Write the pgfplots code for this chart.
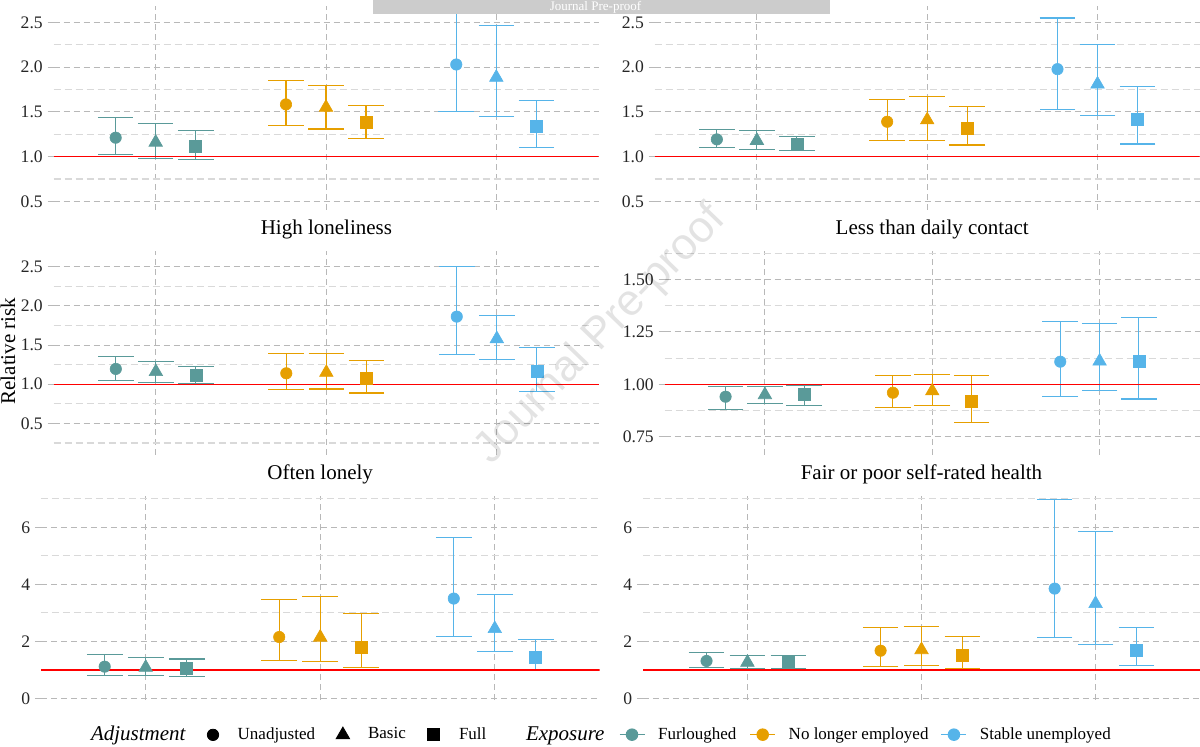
\documentclass[border=0pt]{standalone}
\usepackage{pgfplots}
\pgfplotsset{compat=1.18}
\usepackage{pgfplotstable}
\usepackage{fontspec}
\setmainfont{Liberation Serif}
\newfontfamily\wmfont{Liberation Sans}

\definecolor{cG}{HTML}{5A9A99}
\definecolor{cY}{HTML}{E69F00}
\definecolor{cB}{HTML}{56B4E9}
\definecolor{refline}{HTML}{FF0000}

% rows: Furloughed (U,B,F), No longer employed (U,B,F), Stable unemployed (U,B,F)
\pgfplotstableread{
x y lo hi
0.765 1.212 1.022 1.439
1.000 1.160 0.978 1.368
1.235 1.119 0.970 1.290
1.765 1.584 1.349 1.851
2.000 1.550 1.309 1.800
2.235 1.383 1.200 1.576
2.765 2.030 1.509 2.800
3.000 1.885 1.450 2.461
3.235 1.338 1.100 1.632
}\tabA
\pgfplotstableread{
x y lo hi
0.765 1.193 1.100 1.301
1.000 1.180 1.078 1.290
1.235 1.138 1.067 1.223
1.765 1.390 1.182 1.639
2.000 1.410 1.182 1.669
2.235 1.316 1.130 1.558
2.765 1.978 1.532 2.550
3.000 1.810 1.457 2.253
3.235 1.416 1.141 1.781
}\tabB
\pgfplotstableread{
x y lo hi
0.765 1.196 1.051 1.353
1.000 1.160 1.021 1.289
1.235 1.119 1.013 1.230
1.765 1.140 0.928 1.396
2.000 1.150 0.940 1.396
2.235 1.077 0.889 1.302
2.765 1.864 1.383 2.502
3.000 1.580 1.319 1.877
3.235 1.162 0.906 1.468
}\tabC
\pgfplotstableread{
x y lo hi
0.765 0.941 0.879 0.990
1.000 0.950 0.909 0.990
1.235 0.952 0.900 0.995
1.765 0.960 0.890 1.040
2.000 0.968 0.900 1.049
2.235 0.919 0.820 1.040
2.765 1.108 0.941 1.299
3.000 1.110 0.970 1.288
3.235 1.108 0.930 1.318
}\tabD
\pgfplotstableread{
x y lo hi
0.765 1.11 0.795 1.53
1.000 1.08 0.795 1.43
1.235 1.05 0.780 1.38
1.765 2.15 1.32 3.47
2.000 2.14 1.29 3.57
2.235 1.78 1.08 2.97
2.765 3.50 2.18 5.63
3.000 2.44 1.63 3.63
3.235 1.44 0.99 2.05
}\tabE
\pgfplotstableread{
x y lo hi
0.765 1.31 1.08 1.60
1.000 1.26 1.04 1.50
1.235 1.25 1.04 1.50
1.765 1.67 1.11 2.49
2.000 1.70 1.15 2.51
2.235 1.52 1.04 2.18
2.765 3.85 2.12 6.99
3.000 3.32 1.88 5.84
3.235 1.68 1.16 2.48
}\tabF

\pgfplotsset{
  panel/.style={scale only axis, height=102pt, anchor=south west,
    xmin=0.4, xmax=3.6, xtick={1,2,3}, xticklabels={},
    axis line style={draw=none},
    xmajorgrids, ymajorgrids, yminorgrids,
    major grid style={black!28, line width=0.5pt, dash pattern=on 3pt off 2pt},
    minor grid style={black!15, line width=0.55pt, dash pattern=on 3.5pt off 2pt},
    tick align=outside, major tick length=3pt, minor tick length=0pt,
    xtick style={draw=none}, ytick pos=left,
    ytick style={black!28, line width=0.5pt},
    yticklabel style={font=\fontsize{8.8}{10}\selectfont, inner xsep=2.2pt, text=black!85},
    clip=true},
  ci/.style={only marks, color=#1, mark options={solid, fill=#1, draw=#1, line width=0.3pt}},
  mU/.style={mark=*, mark size=2.85pt},
  mB/.style={mark=triangle*, mark size=3.9pt},
  mF/.style={mark=square*, mark size=3pt},
}

\newcommand{\cipt}[4]{%
  \addplot[ci=#3, #4, restrict expr to domain={\coordindex}{#2:#2},
    error bars/.cd, y dir=both, y explicit,
    error bar style={line width=0.55pt, solid},
    error mark options={rotate=90, line width=0.55pt, mark size=8.9pt, solid}]
    table[x=x, y=y, y error plus expr=\thisrow{hi}-\thisrow{y},
          y error minus expr=\thisrow{y}-\thisrow{lo}] {#1};}

\newcommand{\panelplots}[2]{%
  \cipt{#1}{0}{cG}{mU}\cipt{#1}{1}{cG}{mB}\cipt{#1}{2}{cG}{mF}%
  \cipt{#1}{3}{cY}{mU}\cipt{#1}{4}{cY}{mB}\cipt{#1}{5}{cY}{mF}%
  \cipt{#1}{6}{cB}{mU}\cipt{#1}{7}{cB}{mB}\cipt{#1}{8}{cB}{mF}%
  \addplot[draw=refline, line width=#2, solid, mark=none] coordinates {(0.4,1) (3.6,1)};}

\begin{document}
\begin{tikzpicture}
\path[use as bounding box] (0pt,0pt) rectangle (600pt,373.5pt);

% Row 1
\begin{axis}[panel, at={(26.75pt,268.5pt)}, width=272.5pt,
  ymin=0.404, ymax=2.684, ytick={0.5,1,1.5,2,2.5},
  yticklabels={0.5,1.0,1.5,2.0,2.5}, minor ytick={0.75,1.25,1.75,2.25}]
\panelplots{\tabA}{0.8pt}
\end{axis}
\begin{axis}[panel, at={(327.35pt,268.5pt)}, width=272.5pt,
  ymin=0.404, ymax=2.684, ytick={0.5,1,1.5,2,2.5},
  yticklabels={0.5,1.0,1.5,2.0,2.5}, minor ytick={0.75,1.25,1.75,2.25}]
\panelplots{\tabB}{0.8pt}
\end{axis}

% Row 2
\begin{axis}[panel, at={(26.8pt,146pt)}, width=272.75pt,
  ymin=0.097, ymax=2.702, ytick={0.5,1,1.5,2,2.5},
  yticklabels={0.5,1.0,1.5,2.0,2.5}, minor ytick={0.25,0.75,1.25,1.75,2.25}]
\panelplots{\tabC}{0.65pt}
\end{axis}
\begin{axis}[panel, at={(332.25pt,146pt)}, width=267.75pt,
  ymin=0.663, ymax=1.636, ytick={0.75,1,1.25,1.5},
  yticklabels={0.75,1.00,1.25,1.50}, minor ytick={0.875,1.125,1.375,1.625}]
\panelplots{\tabD}{0.65pt}
\end{axis}

% Row 3
\begin{axis}[panel, at={(20.5pt,23.5pt)}, width=279.25pt,
  ymin=-0.06, ymax=7.10, ytick={0,2,4,6},
  yticklabels={0,2,4,6}, minor ytick={3,5,7}]
\panelplots{\tabE}{1.0pt}
\end{axis}
\begin{axis}[panel, at={(321.5pt,23.5pt)}, width=278.5pt,
  ymin=-0.06, ymax=7.10, ytick={0,2,4,6},
  yticklabels={0,2,4,6}, minor ytick={3,5,7}]
\panelplots{\tabF}{1.0pt}
\end{axis}

% Legends
\begin{axis}[at={(0pt,0pt)}, anchor=south west, scale only axis,
  width=600pt, height=373.5pt, xmin=0, xmax=1, ymin=0, ymax=1, hide axis,
  legend columns=-1,
  legend style={at={(0.17275,0.0165)}, anchor=west, draw=none, fill=none,
    inner sep=0pt, outer sep=0pt, column sep=0pt,
    nodes={inner sep=0pt, outer sep=0pt},
    font=\fontsize{8.5}{10}\selectfont, cells={anchor=west}},
  legend image code/.code={\draw[#1] plot coordinates {(0pt,0pt)};}]
\addlegendimage{only marks, mark=*, mark size=2.85pt, black}
\addlegendentry{\hspace*{9.5pt}Unadjusted\rule{10.5pt}{0pt}}
\addlegendimage{only marks, mark=triangle*, mark size=3.9pt, black}
\addlegendentry{\hspace*{9.2pt}Basic\rule{10.6pt}{0pt}}
\addlegendimage{only marks, mark=square*, mark size=3pt, black}
\addlegendentry{\hspace*{10pt}Full}
\end{axis}
\begin{axis}[at={(0pt,0pt)}, anchor=south west, scale only axis,
  width=600pt, height=373.5pt, xmin=0, xmax=1, ymin=0, ymax=1, hide axis,
  legend columns=-1,
  legend style={at={(0.5158,0.0165)}, anchor=west, draw=none, fill=none,
    inner sep=0pt, outer sep=0pt, column sep=0pt,
    nodes={inner sep=0pt, outer sep=0pt},
    font=\fontsize{8.5}{10}\selectfont, cells={anchor=west}},
  legend image code/.code={\draw[#1, mark repeat=2, mark phase=2] plot coordinates {(0pt,0pt) (6.25pt,0pt) (12.5pt,0pt)};}]
\addlegendimage{cG, line width=0.55pt, mark=*, mark size=2.85pt, mark options={solid, fill=cG}}
\addlegendentry{\hspace*{6.5pt}Furloughed\rule{6.6pt}{0pt}}
\addlegendimage{cY, line width=0.55pt, mark=*, mark size=2.85pt, mark options={solid, fill=cY}}
\addlegendentry{\hspace*{6.5pt}No longer employed\rule{6.2pt}{0pt}}
\addlegendimage{cB, line width=0.55pt, mark=*, mark size=2.85pt, mark options={solid, fill=cB}}
\addlegendentry{\hspace*{6.5pt}Stable unemployed}
\end{axis}

% Legend titles
\node[anchor=base west, inner sep=0pt, font=\fontsize{10.5}{12}\selectfont\itshape] at (45.3pt,3pt) {Adjustment};
\node[anchor=base west, inner sep=0pt, font=\fontsize{10.5}{12}\selectfont\itshape] at (262.8pt,3pt) {Exposure};

% Strip titles
\node[anchor=base, font=\fontsize{10.5}{12}\selectfont] at (163.2pt,256pt) {High loneliness};
\node[anchor=base, font=\fontsize{10.5}{12}\selectfont] at (466.1pt,256pt) {Less than daily contact};
\node[anchor=base, font=\fontsize{10.5}{12}\selectfont] at (160.1pt,133.5pt) {Often lonely};
\node[anchor=base, font=\fontsize{10.5}{12}\selectfont] at (460.75pt,133.5pt) {Fair or poor self-rated health};

% Y label
\node[anchor=base, rotate=90, inner sep=0pt, font=\fontsize{10.5}{12}\selectfont] at (7.5pt,198pt) {Relative risk};

% Watermark
\node[rotate=46, font=\wmfont\fontsize{22}{24}\selectfont, text=black, text opacity=0.11] at (300.5pt,206pt) {Journal Pre-proof};

% Banner
\fill[black!20] (186.5pt,366.5pt) rectangle (415pt,373.5pt);
\node[font=\fontsize{6.5}{7}\selectfont, text=white, inner sep=0pt] at (297.75pt,370pt) {Journal Pre-proof};
\end{tikzpicture}
\end{document}
